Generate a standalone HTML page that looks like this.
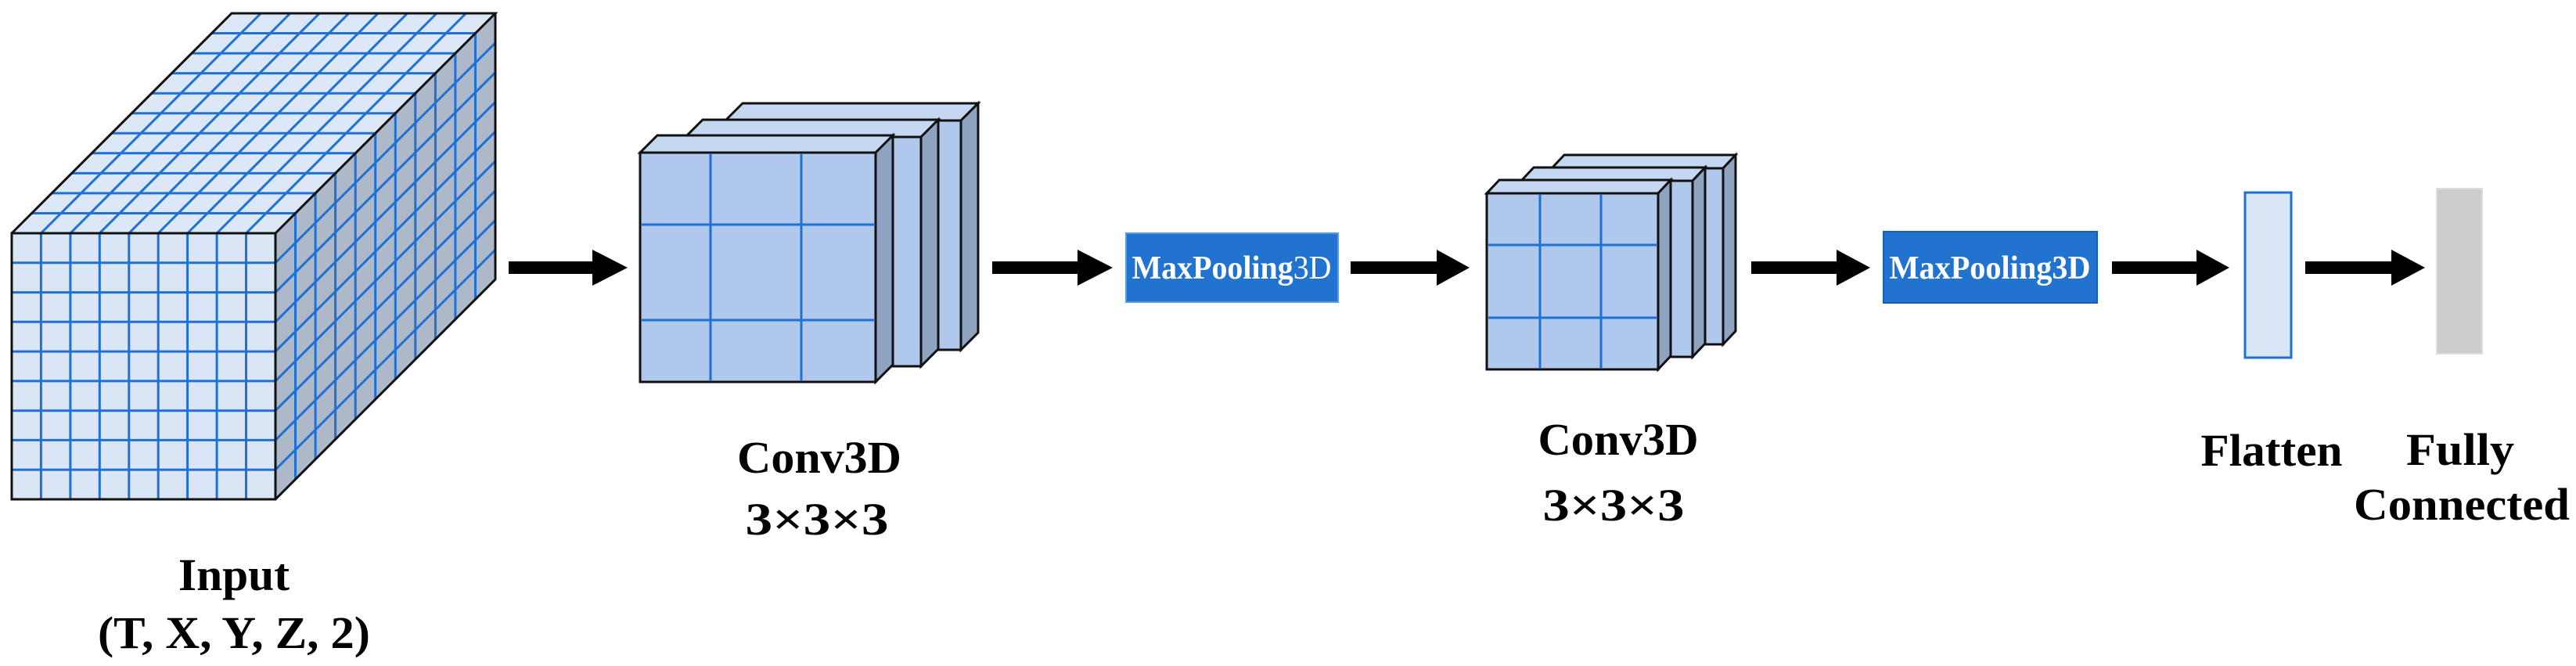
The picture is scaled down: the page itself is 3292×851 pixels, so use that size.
<!DOCTYPE html>
<html><head><meta charset="utf-8"><style>
html,body{margin:0;padding:0;background:#fff;width:3292px;height:851px;overflow:hidden}
svg{display:block}
text{font-family:"Liberation Serif",serif;font-weight:bold;fill:#000}
</style></head><body>
<svg width="3292" height="851" viewBox="0 0 3292 851" xmlns="http://www.w3.org/2000/svg">
<!-- Input cube -->
<g stroke-linejoin="miter">
<polygon points="15,298 352,298 633,17 296,17" fill="#dce8f7"/>
<polygon points="352,298 633,17 633,357 352,638" fill="#adb9c9"/>
<rect x="15" y="298" width="337" height="340" fill="#dae6f6"/>
<g stroke="#1f70d4" stroke-width="3" fill="none">
<!-- front -->
<path d="M52.4,298V638M89.9,298V638M127.3,298V638M164.8,298V638M202.2,298V638M239.6,298V638M277.1,298V638M314.5,298V638"/>
<path d="M15,335.8H352M15,373.6H352M15,411.3H352M15,449.1H352M15,486.9H352M15,524.7H352M15,562.4H352M15,600.2H352"/>
<!-- top: depth lines -->
<path d="M52.4,298L333.4,17M89.9,298L370.9,17M127.3,298L408.3,17M164.8,298L445.8,17M202.2,298L483.2,17M239.6,298L520.6,17M277.1,298L558.1,17M314.5,298L595.5,17"/>
<!-- top: cross lines -->
<path d="M40.5,272.5H377.5M66.1,246.9H403.1M91.6,221.4H428.6M117.2,195.8H454.2M142.7,170.3H479.7M168.3,144.7H505.3M193.8,119.2H530.8M219.4,93.6H556.4M244.9,68.1H581.9M270.5,42.5H607.5"/>
<!-- right: verticals -->
<path d="M377.5,272.5V612.5M403.1,246.9V586.9M428.6,221.4V561.4M454.2,195.8V535.8M479.7,170.3V510.3M505.3,144.7V484.7M530.8,119.2V459.2M556.4,93.6V433.6M581.9,68.1V408.1M607.5,42.5V382.5"/>
<!-- right: depth lines -->
<path d="M352,335.8L633,54.8M352,373.6L633,92.6M352,411.3L633,130.3M352,449.1L633,168.1M352,486.9L633,205.9M352,524.7L633,243.7M352,562.4L633,281.4M352,600.2L633,319.2"/>
</g>
<g stroke="#111" stroke-width="3" fill="none">
<rect x="15" y="298" width="337" height="340"/>
<polyline points="15,298 296,17 633,17 352,298"/>
<polyline points="633,17 633,357 352,638"/>
</g>
</g>
<text x="299" y="754" text-anchor="middle" font-size="58" textLength="142" lengthAdjust="spacingAndGlyphs">Input</text>
<text x="299" y="828" text-anchor="middle" font-size="58" textLength="348" lengthAdjust="spacingAndGlyphs">(T, X, Y, Z, 2)</text>

<!-- Conv1 slabs -->
<g stroke="#111" stroke-width="3" stroke-linejoin="miter">
<!-- slab3 -->
<polygon points="927,154 1228,154 1250,132 949,132" fill="#c5d8f2"/>
<polygon points="1228,154 1250,132 1250,425 1228,447" fill="#8da3c0"/>
<rect x="927" y="154" width="301" height="293" fill="#afc8ec"/>
<!-- slab2 -->
<polygon points="876,175 1177,175 1199,153 898,153" fill="#c5d8f2"/>
<polygon points="1177,175 1199,153 1199,446 1177,468" fill="#8da3c0"/>
<rect x="876" y="175" width="301" height="293" fill="#afc8ec"/>
<!-- slab1 -->
<polygon points="818,195 1119,195 1141,173 840,173" fill="#c5d8f2"/>
<polygon points="1119,195 1141,173 1141,466 1119,488" fill="#8da3c0"/>
<rect x="818" y="195" width="301" height="293" fill="#afc8ec"/>
</g>
<g stroke="#1f70d4" stroke-width="3"><path d="M908,196V487M1024,196V487M819,287H1118M819,409H1118"/></g>
<text x="1047" y="604" text-anchor="middle" font-size="58" textLength="210" lengthAdjust="spacingAndGlyphs">Conv3D</text>
<text x="1044" y="683" text-anchor="middle" font-size="58" textLength="183" lengthAdjust="spacingAndGlyphs">3×3×3</text>

<!-- Conv2 slabs -->
<g stroke="#111" stroke-width="3" stroke-linejoin="miter">
<polygon points="1983,215 2202,215 2218,198 1999,198" fill="#c5d8f2"/>
<polygon points="2202,215 2218,198 2218,423 2202,440" fill="#8da3c0"/>
<rect x="1983" y="215" width="219" height="225" fill="#afc8ec"/>
<polygon points="1944,231 2163,231 2179,214 1960,214" fill="#c5d8f2"/>
<polygon points="2163,231 2179,214 2179,439 2163,456" fill="#8da3c0"/>
<rect x="1944" y="231" width="219" height="225" fill="#afc8ec"/>
<polygon points="1900,247 2119,247 2135,230 1916,230" fill="#c5d8f2"/>
<polygon points="2119,247 2135,230 2135,455 2119,472" fill="#8da3c0"/>
<rect x="1900" y="247" width="219" height="225" fill="#afc8ec"/>
</g>
<g stroke="#1f70d4" stroke-width="3"><path d="M1968,248V471M2046,248V471M1901,313H2118M1901,406H2118"/></g>
<text x="2068" y="581" text-anchor="middle" font-size="58" textLength="205" lengthAdjust="spacingAndGlyphs">Conv3D</text>
<text x="2062" y="665" text-anchor="middle" font-size="58" textLength="181" lengthAdjust="spacingAndGlyphs">3×3×3</text>

<!-- Arrows -->
<g fill="#000">
<polygon points="650,334 757,334 757,319 802,342 757,365 757,350 650,350"/>
<polygon points="1268,334 1377,334 1377,319 1422,342 1377,365 1377,350 1268,350"/>
<polygon points="1726,334 1836,334 1836,319 1878,342 1836,365 1836,350 1726,350"/>
<polygon points="2238,334 2347,334 2347,319 2390,342 2347,365 2347,350 2238,350"/>
<polygon points="2699,334 2807,334 2807,319 2849,342 2807,365 2807,350 2699,350"/>
<polygon points="2946,334 3056,334 3056,319 3099,342 3056,365 3056,350 2946,350"/>
</g>

<!-- MaxPooling boxes -->
<rect x="1439" y="298" width="271" height="88" fill="#2273d0" stroke="#5b9be0" stroke-width="2"/>
<text x="1574" y="356" text-anchor="middle" font-size="42" style="fill:#fff" textLength="255" lengthAdjust="spacingAndGlyphs">MaxPooling<tspan font-weight="normal">3D</tspan></text>
<rect x="2407" y="296" width="273" height="91" fill="#2273d0" stroke="#1a5eb0" stroke-width="2"/>
<text x="2543" y="356" text-anchor="middle" font-size="42" style="fill:#fff" textLength="257" lengthAdjust="spacingAndGlyphs">MaxPooling3D</text>

<!-- Flatten -->
<rect x="2869" y="246" width="59" height="211" fill="#dae6f6" stroke="#1f70d4" stroke-width="3"/>
<!-- FC -->
<rect x="3114" y="241" width="58" height="211" fill="#cdcccb" stroke="#dedddc" stroke-width="2"/>

<text x="2903" y="595" text-anchor="middle" font-size="58" textLength="181" lengthAdjust="spacingAndGlyphs">Flatten</text>
<text x="3144" y="594" text-anchor="middle" font-size="58" textLength="138" lengthAdjust="spacingAndGlyphs">Fully</text>
<text x="3146" y="664" text-anchor="middle" font-size="58" textLength="276" lengthAdjust="spacingAndGlyphs">Connected</text>
</svg>
</body></html>
